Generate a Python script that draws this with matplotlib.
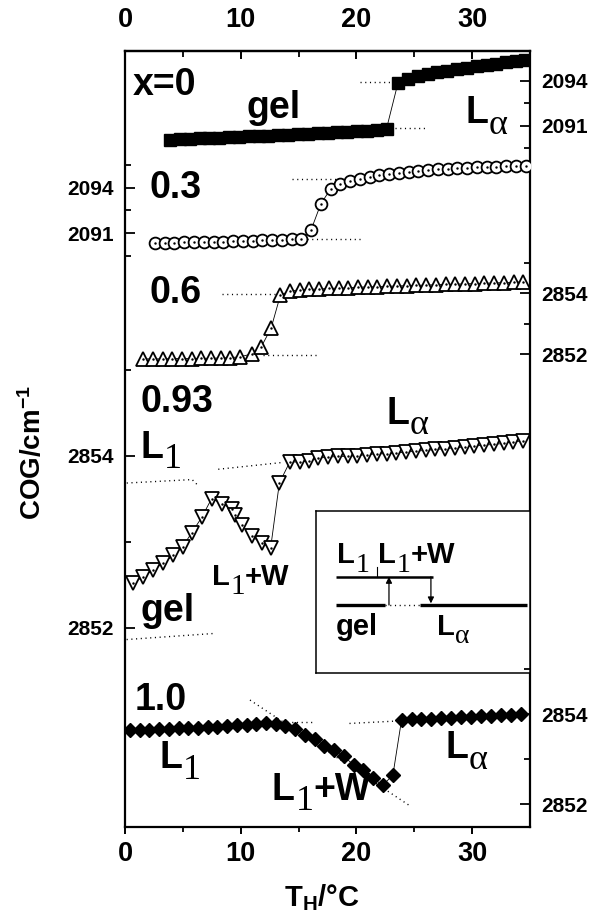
import matplotlib
matplotlib.use("Agg")
import matplotlib.pyplot as plt
from matplotlib.ticker import FixedLocator

plt.rcParams['font.family'] = ['Liberation Sans', 'DejaVu Sans']
plt.rcParams['font.weight'] = 'bold'
plt.rcParams['mathtext.fontset'] = 'custom'
plt.rcParams['mathtext.rm'] = 'Liberation Sans:bold'
plt.rcParams['mathtext.bf'] = 'Liberation Sans:bold'
plt.rcParams['mathtext.default'] = 'bf'

# ---------------- data: centre of gravity (COG) vs hydration temperature ----------------
# x = 0 (C=O stretch region, filled squares)
t_x0_gel = [3.9, 4.75, 5.6, 6.45, 7.3, 8.15, 9.0, 9.85, 10.7, 11.55, 12.4, 13.25, 14.1,
            14.95, 15.8, 16.65, 17.5, 18.35, 19.2, 20.05, 20.9, 21.75, 22.6]
cog_x0_gel = [2090.08, 2090.10, 2090.13, 2090.15, 2090.18, 2090.21, 2090.23, 2090.26,
              2090.29, 2090.31, 2090.34, 2090.37, 2090.40, 2090.43, 2090.46, 2090.49,
              2090.53, 2090.56, 2090.60, 2090.64, 2090.68, 2090.72, 2090.80]
t_x0_la = [23.6, 24.45, 25.3, 26.15, 27.0, 27.85, 28.7, 29.55, 30.4, 31.25, 32.1, 32.95,
           33.8, 34.6]
cog_x0_la = [2093.88, 2094.10, 2094.33, 2094.47, 2094.58, 2094.68, 2094.78, 2094.88,
             2094.97, 2095.06, 2095.14, 2095.22, 2095.29, 2095.35]

# x = 0.3 (open circles)
t_x03 = [2.6, 3.43, 4.27, 5.12, 5.96, 6.8, 7.65, 8.49, 9.33, 10.18, 11.02, 11.86, 12.7,
         13.55, 14.39, 15.23, 16.08, 16.92, 17.76, 18.61, 19.45, 20.29, 21.14, 21.98,
         22.82, 23.67, 24.51, 25.35, 26.2, 27.04, 27.88, 28.73, 29.57, 30.41, 31.26,
         32.1, 32.94, 33.78, 34.63]
cog_x03 = [2090.38, 2090.38, 2090.38, 2090.41, 2090.41, 2090.43, 2090.43, 2090.45,
           2090.47, 2090.49, 2090.52, 2090.54, 2090.56, 2090.58, 2090.60, 2090.65,
           2091.22, 2092.93, 2093.91, 2094.24, 2094.42, 2094.57, 2094.72, 2094.84,
           2094.92, 2094.99, 2095.05, 2095.12, 2095.16, 2095.21, 2095.23, 2095.27,
           2095.30, 2095.34, 2095.36, 2095.38, 2095.41, 2095.43, 2095.45]

# x = 0.6 (open up-triangles)
t_x06 = [1.58, 2.42, 3.25, 4.09, 4.93, 5.76, 6.6, 7.44, 8.28, 9.11, 9.97, 10.95, 11.78,
         12.62, 13.43, 14.26, 15.1, 15.94, 16.78, 17.62, 18.46, 19.3, 20.14, 20.98,
         21.82, 22.66, 23.5, 24.34, 25.18, 26.02, 26.86, 27.7, 28.54, 29.38, 30.22,
         31.06, 31.9, 32.74, 33.58, 34.42]
cog_x06 = [2851.85, 2851.85, 2851.85, 2851.86, 2851.86, 2851.86, 2851.87, 2851.87,
           2851.88, 2851.89, 2851.92, 2852.01, 2852.25, 2852.85, 2853.94, 2854.08,
           2854.11, 2854.13, 2854.14, 2854.16, 2854.17, 2854.18, 2854.20, 2854.21,
           2854.22, 2854.23, 2854.24, 2854.25, 2854.26, 2854.27, 2854.28, 2854.29,
           2854.30, 2854.31, 2854.32, 2854.33, 2854.34, 2854.35, 2854.36, 2854.38]

# x = 0.93 (open down-triangles)
t_x093 = [0.72, 1.58, 2.45, 3.31, 4.18, 4.98, 5.76, 6.63, 7.49, 8.36, 9.22, 9.5, 10.08,
          10.95, 11.81, 12.59, 13.34, 14.26, 15.12, 15.93, 16.71, 17.55, 18.4, 19.24,
          20.08, 20.92, 21.77, 22.61, 23.45, 24.3, 25.14, 25.98, 26.83, 27.67, 28.51,
          29.35, 30.2, 31.04, 31.88, 32.72, 33.57, 34.41]
cog_x093 = [2852.52, 2852.59, 2852.67, 2852.75, 2852.84, 2852.94, 2853.10, 2853.28,
            2853.50, 2853.44, 2853.38, 2853.31, 2853.19, 2853.06, 2852.98, 2852.93,
            2853.68, 2853.93, 2853.92, 2853.94, 2853.97, 2853.98, 2853.99, 2853.99,
            2854.00, 2854.01, 2854.02, 2854.02, 2854.03, 2854.04, 2854.05, 2854.06,
            2854.07, 2854.08, 2854.09, 2854.10, 2854.11, 2854.12, 2854.13, 2854.14,
            2854.16, 2854.17]

# x = 1.0 (filled diamonds)
t_x10 = [0.43, 1.27, 2.11, 2.95, 3.79, 4.63, 5.47, 6.31, 7.15, 7.99, 8.83, 9.67, 10.51,
         11.35, 12.19, 13.03, 13.87, 14.71, 15.55, 16.39, 17.23, 18.07, 18.91, 19.75,
         20.59, 21.43, 22.27, 23.15, 23.9, 24.76, 25.62, 26.48, 27.34, 28.2, 29.06,
         29.92, 30.78, 31.64, 32.5, 33.36, 34.22]
cog_x10 = [2853.64, 2853.65, 2853.65, 2853.66, 2853.67, 2853.68, 2853.69, 2853.70,
           2853.71, 2853.72, 2853.73, 2853.75, 2853.76, 2853.78, 2853.79, 2853.77,
           2853.73, 2853.67, 2853.54, 2853.44, 2853.30, 2853.21, 2853.06, 2852.87,
           2852.75, 2852.57, 2852.42, 2852.64, 2853.87, 2853.88, 2853.89, 2853.90,
           2853.91, 2853.92, 2853.93, 2853.94, 2853.95, 2853.96, 2853.97, 2853.98,
           2854.00]

# extrapolated phase baselines (dotted): (T list, COG list)
guides_x0 = [([20.3, 23.2], [2093.93, 2093.93]), ([23.3, 26.2], [2090.87, 2090.87])]
guides_x03 = [([14.4, 19.2], [2094.59, 2094.59]), ([15.7, 20.6], [2090.61, 2090.61])]
guides_x06 = [([8.4, 13.1], [2853.97, 2853.97]), ([11.9, 16.7], [2851.98, 2851.98])]
guides_x093 = [([0.15, 5.8, 6.4], [2853.68, 2853.72, 2853.64]),
               ([8.06, 13.68], [2853.84, 2853.92]),
               ([0.14, 7.63], [2851.86, 2851.93])]
guides_x10 = [([10.8, 24.5], [2854.31, 2851.98]),
              ([14.0, 16.3], [2853.83, 2853.83]),
              ([19.4, 23.2], [2853.79, 2853.84])]

# ---------------- figure layout (pixel geometry of the frame) ----------------
W, H = 600, 914
FL, FR, FT, FB = 125, 530, 50.7, 826.7
fig = plt.figure(figsize=(W / 100, H / 100), dpi=100)
rect = [FL / W, 1 - FB / H, (FR - FL) / W, (FB - FT) / H]

frame = fig.add_axes(rect)
frame.set_xlim(0, 35)
frame.set_ylim(0, 1)
frame.set_yticks([])
for sp in frame.spines.values():
    sp.set_linewidth(1.6)
frame.xaxis.set_major_locator(FixedLocator([0, 10, 20, 30]))
frame.xaxis.set_minor_locator(FixedLocator([5, 15, 25]))
frame.tick_params(axis='x', which='major', direction='out', length=5, width=1.4,
                  labelsize=19.5, pad=5)
frame.tick_params(axis='x', which='minor', direction='out', length=3.5, width=1.3)
top = frame.secondary_xaxis('top')
top.set_xticks([0, 10, 20, 30])
top.xaxis.set_minor_locator(FixedLocator([5, 15, 25]))
top.tick_params(axis='x', which='major', direction='in', length=6, width=1.4,
                labelsize=19.5, pad=13)
top.tick_params(axis='x', which='minor', direction='in', length=4, width=1.3)
top.spines['top'].set_linewidth(1.6)


def panel(ref_val, ref_px, px_per_unit, side, majors, minors):
    """Transparent overlay axes whose y scale places ref_val at pixel row ref_px."""
    ax = fig.add_axes(rect, facecolor='none')
    ax.set_xlim(0, 35)
    ax.set_ylim(ref_val - (FB - ref_px) / px_per_unit, ref_val + (ref_px - FT) / px_per_unit)
    for sp in ax.spines.values():
        sp.set_visible(False)
    ax.set_xticks([])
    ax.yaxis.set_major_locator(FixedLocator(majors))
    ax.yaxis.set_minor_locator(FixedLocator(minors))
    ax.yaxis.set_ticks_position(side)
    ax.yaxis.set_label_position(side)
    ax.tick_params(axis='y', which='major', direction='in', length=7, width=1.3,
                   labelsize=15, pad=8)
    ax.tick_params(axis='y', which='minor', direction='in', length=4.5, width=1.3)
    return ax


ax0 = panel(2094, 80.7, 15.0, 'right', [2091, 2094], [2089.5, 2092.5, 2095.5])
ax3 = panel(2094, 187.7, 15.2, 'left', [2091, 2094], [2089.5, 2092.5, 2095.5])
ax6 = panel(2854, 293.3, 30.5, 'right', [2852, 2854], [2853, 2855])
ax93 = panel(2854, 455.5, 86.0, 'left', [2852, 2854], [2853, 2855])
ax10 = panel(2854, 714.0, 45.0, 'right', [2852, 2854], [2853, 2855])

line_kw = dict(color='black', lw=0.6)
dot_kw = dict(ls='none', marker='.', ms=1.5, color='black')
guide_kw = dict(color='black', lw=1.0, ls=(0, (0.8, 2.6)))


def guides(ax, segs):
    for tx, cy in segs:
        ax.plot(tx, cy, **guide_kw)


# x = 0
guides(ax0, guides_x0)
ax0.plot([t_x0_gel[-1], t_x0_la[0]], [cog_x0_gel[-1], cog_x0_la[0]], **line_kw)
ax0.plot(t_x0_gel, cog_x0_gel, marker='s', ms=8.5, mfc='black', mec='black', **line_kw)
ax0.plot(t_x0_la, cog_x0_la, marker='s', ms=8.5, mfc='black', mec='black', **line_kw)

# x = 0.3
guides(ax3, guides_x03)
ax3.plot(t_x03, cog_x03, marker='o', ms=8.5, mfc='white', mec='black', mew=1.3, **line_kw)
ax3.plot(t_x03, cog_x03, **dot_kw)

# x = 0.6
guides(ax6, guides_x06)
ax6.plot(t_x06, cog_x06, marker='^', ms=10, mfc='white', mec='black', mew=1.3, **line_kw)
ax6.plot(t_x06, cog_x06, **dot_kw)

# x = 0.93
guides(ax93, guides_x093)
ax93.plot(t_x093, cog_x093, marker='v', ms=10.5, mfc='white', mec='black', mew=1.3, **line_kw)
ax93.plot(t_x093, cog_x093, **dot_kw)

# x = 1.0
guides(ax10, guides_x10)
ax10.plot(t_x10, cog_x10, marker='D', ms=7, mfc='black', mec='black', **line_kw)


def phase(ax, x, y, base, sub=None, tail=None, size=27, subsize=26, drop=7.5,
          transform=None):
    """Bold sans label with a serif subscript and an optional bold tail."""
    kw = dict(fontsize=size, fontweight='bold', family='Liberation Sans')
    t = ax.text(x, y, base, va='baseline', ha='left',
                transform=transform if transform is not None else ax.transData, **kw)
    last = t
    if sub:
        last = ax.annotate(sub, xy=(1, 0), xycoords=t, xytext=(0.5, -drop),
                           textcoords='offset points', fontsize=subsize,
                           family='Liberation Serif', fontweight='normal',
                           va='bottom', ha='left')
    if tail:
        ax.annotate(tail, xy=(1, 0), xycoords=(last, t), xytext=(0, 0),
                    textcoords='offset points', va='bottom', ha='left', **kw)
    return t


# panel labels
phase(ax0, 0.69, 2093.05, 'x=0')
phase(ax0, 10.5, 2091.49, 'gel')
phase(ax0, 29.4, 2091.16, 'L', 'α')
phase(ax3, 2.16, 2093.30, '0.3')
phase(ax6, 2.16, 2853.69, '0.6')
phase(ax93, 1.3, 2854.51, '0.93')
phase(ax93, 1.3, 2853.97, 'L', '1')
phase(ax93, 7.5, 2852.49, 'L', '1', '+W', size=21, subsize=21, drop=6)
phase(ax93, 1.3, 2852.07, 'gel')
phase(ax93, 22.6, 2854.37, 'L', 'α')
phase(ax10, 0.86, 2854.09, '1.0')
phase(ax10, 3.0, 2852.79, 'L', '1')
phase(ax10, 12.7, 2852.09, 'L', '1', '+W')
phase(ax10, 27.7, 2853.02, 'L', 'α')

# schematic inset of the transition paths
ins = frame.inset_axes([0.4716, 0.198, 0.5284, 0.2088])
ins.set_xlim(0, 1)
ins.set_ylim(0, 1)
ins.set_xticks([])
ins.set_yticks([])
for sp in ins.spines.values():
    sp.set_linewidth(1.1)
ins.plot([0.093, 0.548], [0.594, 0.594], color='black', lw=1.8, solid_capstyle='butt')
ins.plot([0.093, 0.322], [0.42, 0.42], color='black', lw=2.4, solid_capstyle='butt')
ins.plot([0.322, 0.486], [0.42, 0.42], color='black', lw=1.0, ls=(0, (0.8, 2.6)))
ins.plot([0.486, 0.985], [0.42, 0.42], color='black', lw=2.4, solid_capstyle='butt')
ins.plot([0.284, 0.284], [0.594, 0.655], color='black', lw=0.8)
arrow_kw = dict(arrowstyle='-|>', color='black', lw=0.9, mutation_scale=9,
                shrinkA=0, shrinkB=0)
ins.annotate('', xy=(0.341, 0.594), xytext=(0.341, 0.42), arrowprops=arrow_kw)
ins.annotate('', xy=(0.537, 0.43), xytext=(0.537, 0.594), arrowprops=arrow_kw)
phase(ins, 0.097, 0.677, 'L', '1', size=21, subsize=20, drop=6)
phase(ins, 0.29, 0.677, 'L', '1', '+W', size=21, subsize=20, drop=6)
phase(ins, 0.093, 0.235, 'gel', size=21)
phase(ins, 0.564, 0.235, 'L', 'α', size=21, subsize=20, drop=6)

# axis titles
fig.text(33 / W, 1 - 452 / H, 'COG/cm$^{-1}$', rotation=90, ha='center', va='center',
         fontsize=20, fontweight='bold')
fig.text(322 / W, 1 - 898 / H, 'T$_{H}$/°C', ha='center', va='center',
         fontsize=21, fontweight='bold')

fig.savefig('out.png', dpi=100)
